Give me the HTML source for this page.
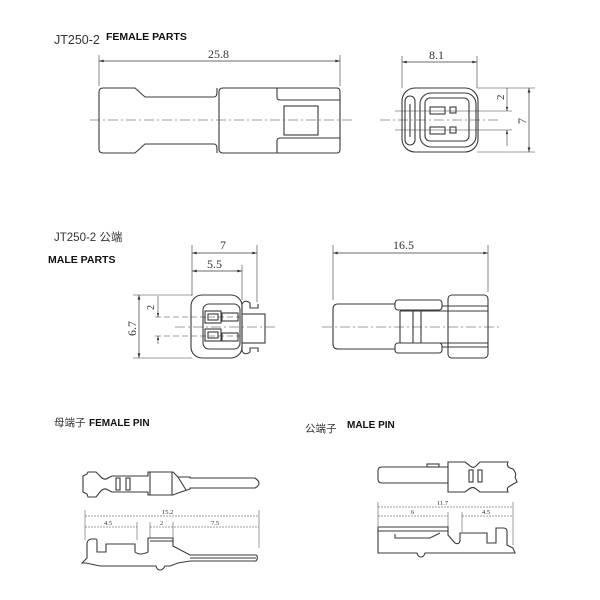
<!DOCTYPE html>
<html><head><meta charset="utf-8"><style>
html,body{margin:0;padding:0;background:#fff;}
svg{display:block;}
text{font-family:"Liberation Serif",serif;fill:#333;}
.t{font-family:"Liberation Sans","Noto Sans CJK SC",sans-serif;}
.b{font-family:"Liberation Sans","Noto Sans CJK SC",sans-serif;font-weight:bold;fill:#111;}
</style></head><body>
<svg width="600" height="600" viewBox="0 0 600 600" xmlns="http://www.w3.org/2000/svg">
<defs>
<marker id="a" viewBox="0 0 10 6" refX="10" refY="3" markerWidth="7" markerHeight="4" orient="auto-start-reverse"><path d="M0,0 L10,3 L0,6 z" fill="#333"/></marker>
</defs>
<g fill="none" stroke="#3a3a3a" stroke-width="1.1">

<line x1="99" y1="55" x2="99" y2="86" stroke-width="0.6"/>
<line x1="340" y1="55" x2="340" y2="86" stroke-width="0.6"/>
<line x1="99" y1="61" x2="340" y2="61" stroke-width="0.7" marker-start="url(#a)" marker-end="url(#a)"/>
<path d="M103,88 H135 L145,97 H214 Q217,97 217,92 V88 M217,153 V149 Q217,144 214,144 H145 L135,153 H103 Q99,153 99,149 V92 Q99,88 103,88"/>
<path d="M223,88 H337 Q340,88 340,92 V149 Q340,153 337,153 H223 Q219,153 219,149 V92 Q219,88 223,88"/>
<path d="M277,88 V97 Q277,100 280,100 H340 M277,153 V141 Q277,138 280,138 H340"/>
<rect x="284" y="106" width="34" height="29"/>
<line x1="90" y1="120" x2="352" y2="120" stroke-width="0.6" stroke-dasharray="10,3,2,3"/>

<line x1="402" y1="56" x2="402" y2="88" stroke-width="0.6"/>
<line x1="477" y1="56" x2="477" y2="88" stroke-width="0.6"/>
<line x1="402" y1="62" x2="477" y2="62" stroke-width="0.7" marker-start="url(#a)" marker-end="url(#a)"/>
<rect x="402" y="88" width="76" height="64" rx="13"/>
<rect x="420" y="93" width="56" height="54" rx="11"/>
<rect x="425" y="98" width="44" height="43" rx="5"/>
<rect x="405" y="96" width="10" height="49" rx="5"/>
<line x1="410" y1="104" x2="410" y2="137"/>
<rect x="430" y="107" width="15" height="7"/><rect x="450" y="107" width="6" height="6"/>
<rect x="430" y="127" width="15" height="7"/><rect x="450" y="127" width="6" height="6"/>
<line x1="395" y1="111" x2="512" y2="111" stroke-width="0.6"/>
<line x1="395" y1="130" x2="512" y2="130" stroke-width="0.6"/>
<line x1="380" y1="120" x2="500" y2="120" stroke-width="0.6" stroke-dasharray="10,3,2,3"/>
<line x1="477" y1="88" x2="535" y2="88" stroke-width="0.6"/>
<line x1="477" y1="152" x2="535" y2="152" stroke-width="0.6"/>
<line x1="529" y1="88" x2="529" y2="152" stroke-width="0.7" marker-start="url(#a)" marker-end="url(#a)"/>
<line x1="507" y1="88" x2="507" y2="111" stroke-width="0.6" marker-end="url(#a)"/>
<line x1="507" y1="146" x2="507" y2="130" stroke-width="0.6" marker-end="url(#a)"/>

<line x1="192" y1="245" x2="192" y2="296" stroke-width="0.6"/>
<line x1="242" y1="265" x2="242" y2="300" stroke-width="0.6"/>
<line x1="257" y1="245" x2="257" y2="302" stroke-width="0.6"/>
<line x1="192" y1="253" x2="257" y2="253" stroke-width="0.7" marker-start="url(#a)" marker-end="url(#a)"/>
<line x1="192" y1="271" x2="242" y2="271" stroke-width="0.7" marker-start="url(#a)" marker-end="url(#a)"/>
<rect x="191" y="295" width="51" height="63" rx="11"/>
<rect x="203" y="304" width="37" height="45" rx="6"/>
<rect x="205" y="311" width="16" height="12"/><rect x="208" y="314" width="10" height="6"/>
<rect x="205" y="329" width="16" height="12"/><rect x="208" y="332" width="10" height="6"/>
<rect x="222" y="313" width="16" height="8"/><rect x="222" y="333" width="16" height="8"/>
<rect x="242" y="314" width="23" height="29"/>
<path d="M242,312 V304 Q245,299 250,303 V308 H258 V304 M242,345 V351 Q245,356 250,352 V348 H258 V352"/>
<line x1="133" y1="295" x2="192" y2="295" stroke-width="0.6"/>
<line x1="133" y1="358" x2="192" y2="358" stroke-width="0.6"/>
<line x1="139" y1="295" x2="139" y2="358" stroke-width="0.7" marker-start="url(#a)" marker-end="url(#a)"/>
<line x1="158" y1="296" x2="158" y2="317" stroke-width="0.6" marker-end="url(#a)"/>
<line x1="158" y1="344" x2="158" y2="336" stroke-width="0.6" marker-end="url(#a)"/>
<line x1="155" y1="317" x2="240" y2="317" stroke-width="0.6" stroke-dasharray="6,3"/>
<line x1="155" y1="336" x2="240" y2="336" stroke-width="0.6" stroke-dasharray="6,3"/>
<line x1="175" y1="327" x2="275" y2="327" stroke-width="0.6" stroke-dasharray="10,3,2,3"/>

<line x1="333" y1="245" x2="333" y2="300" stroke-width="0.6"/>
<line x1="488" y1="245" x2="488" y2="292" stroke-width="0.6"/>
<line x1="333" y1="253" x2="488" y2="253" stroke-width="0.7" marker-start="url(#a)" marker-end="url(#a)"/>
<path d="M395,304 H338 Q333,304 333,309 V344 Q333,349 338,349 H395"/>
<rect x="395" y="300" width="47" height="10" rx="3"/>
<rect x="395" y="343" width="47" height="10" rx="3"/>
<rect x="448" y="295" width="40" height="63" rx="4"/>
<path d="M400,311 V343 H488 M400,311 H488 M442,306 H488 M442,347 H488"/>
<line x1="413" y1="311" x2="413" y2="343"/>
<line x1="421" y1="311" x2="421" y2="343"/>
<line x1="322" y1="327" x2="500" y2="327" stroke-width="0.6" stroke-dasharray="10,3,2,3"/>

<path d="M88,472 H96 L100,476 Q104,481 108,478 L112,476 H148 V472 H173 L178,477 H190 V478 H255 Q259,481 259,483 Q259,486 255,488 H190 V489 L178,493 L173,495 H148 V492 H112 L108,490 Q104,487 100,492 L96,497 H88 L87,494 L83,492 V476 L87,474 Z"/>
<line x1="150" y1="472" x2="150" y2="495"/>
<line x1="172" y1="472" x2="172" y2="495"/>
<line x1="178" y1="477" x2="186" y2="490"/>
<rect x="116" y="478" width="4" height="12"/><rect x="126" y="478" width="4" height="12"/>

<g stroke-width="0.5">
<line x1="85" y1="510" x2="85" y2="540"/><line x1="259" y1="510" x2="259" y2="548"/>
<line x1="137" y1="522" x2="137" y2="540"/><line x1="150" y1="522" x2="150" y2="538"/><line x1="173" y1="522" x2="173" y2="538"/>
<line x1="85" y1="516" x2="259" y2="516" stroke-dasharray="2,1"/>
<line x1="85" y1="527" x2="137" y2="527" stroke-dasharray="2,1"/>
<line x1="150" y1="527" x2="259" y2="527" stroke-dasharray="2,1"/>
</g>
<path d="M82,563 L87,558 V543 Q88,539 92,539 H96 Q97,539 97,542 V552 H106 V544 H135 V552 Q140,556 148,552 V538 H173 V546 L190,555 H256 Q259,557 256,561 H190 L178,563 L170,566 H165 Q163,570 160,570 Q157,570 156,566 H100 L86,563 Z"/>
<line x1="150" y1="541" x2="173" y2="541"/>
<line x1="190" y1="558" x2="256" y2="558"/>

<path d="M382,467 H448 V462 H465 L469,465 Q473,469 476,466 L480,462 H508 Q506,466 510,468 L513,469 Q517,474 515,477 L517,482 Q513,484 510,486 Q506,488 508,492 H480 L476,489 Q473,486 469,489 L465,492 H448 V483 H382 Q378,483 378,479 V471 Q378,467 382,467 Z"/>
<line x1="448" y1="467" x2="448" y2="483"/>
<rect x="427" y="464" width="12" height="3"/>
<rect x="469" y="470" width="4" height="12"/><rect x="478" y="470" width="4" height="12"/>
<g stroke-width="0.5">
<line x1="378" y1="502" x2="378" y2="526"/><line x1="513" y1="502" x2="513" y2="545"/>
<line x1="448" y1="512" x2="448" y2="527"/><line x1="462" y1="512" x2="462" y2="532"/>
<line x1="378" y1="507" x2="513" y2="507" stroke-dasharray="2,1"/>
<line x1="378" y1="516" x2="448" y2="516" stroke-dasharray="2,1"/>
<line x1="462" y1="516" x2="513" y2="516" stroke-dasharray="2,1"/>
</g>
<path d="M378,527 H448 V535 L455,543 Q459,545 460,541 V533 H487 V543 H496 V528 H503 Q507,528 507,531 V545 L513,548 L515,553 H425 Q424,557 421,557 Q418,557 417,553 H378 Z"/>
<line x1="378" y1="531" x2="448" y2="531"/>
<path d="M395,534 V538 H430 L440,533"/>
</g>

<text class="t" x="54" y="44" font-size="12.5">JT250-2</text>
<text class="b" x="106" y="40" font-size="10.5">FEMALE PARTS</text>
<text x="208" y="58" font-size="12">25.8</text>
<text x="429" y="59" font-size="12">8.1</text>
<text x="0" y="0" font-size="11" transform="translate(504,100) rotate(-90)">2</text>
<text x="0" y="0" font-size="12" transform="translate(526,124) rotate(-90)">7</text>

<text class="t" x="54" y="241" font-size="11.5">JT250-2 公端</text>
<text class="b" x="48" y="263" font-size="10.5">MALE PARTS</text>
<text x="220" y="249" font-size="12">7</text>
<text x="207" y="268" font-size="12">5.5</text>
<text x="0" y="0" font-size="12" transform="translate(136,336) rotate(-90)">6.7</text>
<text x="0" y="0" font-size="10" transform="translate(154,310) rotate(-90)">2</text>
<text x="393" y="249" font-size="12">16.5</text>

<text class="t" x="54" y="426" font-size="10.5">母端子</text>
<text class="b" x="89" y="426" font-size="10">FEMALE PIN</text>
<text class="t" x="305" y="432" font-size="10.5">公端子</text>
<text class="b" x="347" y="428" font-size="10">MALE PIN</text>

<text x="162" y="514" font-size="6.5">15.2</text>
<text x="104" y="525" font-size="6.5">4.5</text>
<text x="160" y="525" font-size="6.5">2</text>
<text x="211" y="525" font-size="6.5">7.5</text>
<text x="437" y="505" font-size="6.5">11.7</text>
<text x="411" y="514" font-size="6.5">6</text>
<text x="482" y="514" font-size="6.5">4.5</text>
</svg>
</body></html>
